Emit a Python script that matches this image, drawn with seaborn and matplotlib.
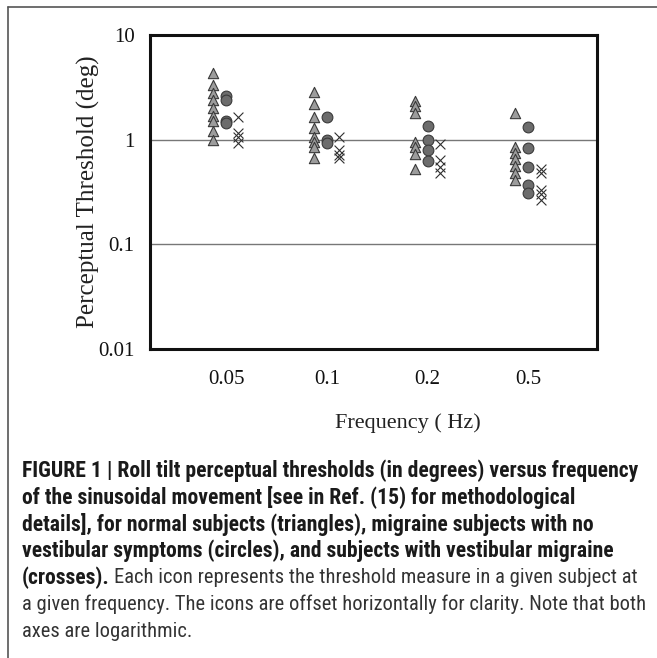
import matplotlib
matplotlib.use("Agg")
import matplotlib.pyplot as plt
from matplotlib.lines import Line2D
from matplotlib import font_manager
import seaborn as sns
import pandas as pd

# frequency categories (Hz)
freq_labels = ["0.05", "0.1", "0.2", "0.5"]

# thresholds (deg), one list per frequency
normal = [
    [4.3, 3.3, 2.8, 2.4, 2.0, 1.7, 1.5, 1.2, 1.0],
    [2.85, 2.2, 1.65, 1.3, 1.07, 0.96, 0.86, 0.67],
    [2.35, 2.1, 1.8, 0.96, 0.85, 0.73, 0.53],
    [1.8, 0.86, 0.75, 0.65, 0.56, 0.48, 0.41],
]
migraine = [
    [2.6, 2.4, 1.5, 1.45],
    [1.65, 1.0, 0.93],
    [1.35, 1.0, 0.8, 0.62],
    [1.33, 0.84, 0.55, 0.37, 0.31],
]
vestibular = [
    [1.65, 1.15, 1.05, 0.93],
    [1.07, 0.8, 0.71, 0.67],
    [0.9, 0.64, 0.55, 0.48],
    [0.53, 0.48, 0.33, 0.3, 0.265],
]

groups = {"normal": normal, "migraine": migraine, "vestibular": vestibular}
offsets = {"normal": -0.13, "migraine": 0.0, "vestibular": 0.12}

rows = []
for name, data in groups.items():
    for i, vals in enumerate(data):
        for v in vals:
            rows.append({"group": name, "x": i + offsets[name], "threshold": v})
df = pd.DataFrame(rows)

sns.set_theme(style="white")
plt.rcParams["font.family"] = ["Liberation Serif", "DejaVu Serif"]

W, H = 657, 658
fig = plt.figure(figsize=(W / 100, H / 100), dpi=100)
ax = fig.add_axes([0.2283, 0.4696, 0.6804, 0.4772])

sns.scatterplot(data=df[df.group == "normal"], x="x", y="threshold", marker="^",
                s=55, color="#9c9c9c", edgecolor="#3a3a3a", linewidth=0.8, ax=ax, zorder=3)
sns.scatterplot(data=df[df.group == "migraine"], x="x", y="threshold", marker="o",
                s=60, color="#6c6c6c", edgecolor="#3a3a3a", linewidth=0.8, ax=ax, zorder=3)
sns.scatterplot(data=df[df.group == "vestibular"], x="x", y="threshold", marker="x",
                s=50, color="#303030", linewidth=0.8, ax=ax, zorder=3)

ax.set_yscale("log")
ax.set_ylim(0.01, 10)
ax.set_xlim(-0.755, 3.68)
ax.set_yticks([0.01, 0.1, 1, 10])
ax.set_yticklabels(["0.01", "0.1", "1", "10"])
ax.set_xticks(range(len(freq_labels)))
ax.set_xticklabels(freq_labels)
ax.minorticks_off()
ax.tick_params(axis="both", length=0, labelsize=15, colors="#111111")
ax.tick_params(axis="x", pad=15)
ax.tick_params(axis="y", pad=11)
ax.yaxis.grid(True, color="#777777", linewidth=1.0)
ax.xaxis.grid(False)
for sp in ax.spines.values():
    sp.set_color("#111111")
    sp.set_linewidth(2.2)

ax.set_xlabel("Frequency ( Hz)", fontsize=16, color="#222222")
ax.xaxis.set_label_coords(0.577, -0.205)
ax.set_ylabel("Perceptual Threshold (deg)", fontsize=18, color="#222222")
ax.yaxis.set_label_coords(-0.112, 0.5)

# outer frame of the figure panel (left and top edges)
fig.add_artist(Line2D([8 / W, 8 / W], [0, 1 - 7 / H], color="#555555", lw=1.2))
fig.add_artist(Line2D([8 / W, 1], [1 - 7 / H, 1 - 7 / H], color="#555555", lw=1.2))

# caption font: pick a narrow sans if one is installed
have = {f.name for f in font_manager.fontManager.ttflist}
cap_font = "DejaVu Sans"
for cand in ["Liberation Sans Narrow", "Roboto Condensed", "DejaVu Sans Condensed",
             "Roboto", "Liberation Sans"]:
    if cand in have:
        cap_font = cand
        break

bold_lines = [
    "FIGURE 1 | Roll tilt perceptual thresholds (in degrees) versus frequency",
    "of the sinusoidal movement [see in Ref. (15) for methodological",
    "details], for normal subjects (triangles), migraine subjects with no",
    "vestibular symptoms (circles), and subjects with vestibular migraine",
]
plain_lines = [
    "Each icon represents the threshold measure in a given subject at",
    "a given frequency. The icons are offset horizontally for clarity. Note that both",
    "axes are logarithmic.",
]

# size the caption so the lines span the same width as in the figure
renderer = fig.canvas.get_renderer()
probe = fig.text(0, 0, bold_lines[0], family=cap_font, fontsize=14, fontweight="bold")
wpx = probe.get_window_extent(renderer).width
probe.remove()
cap_size = 14 * 618 / wpx
probe = fig.text(0, 0, plain_lines[1], family=cap_font, fontsize=14)
wpx2 = probe.get_window_extent(renderer).width
probe.remove()
plain_size = 14 * 626 / wpx2

x0 = 22 / W
y0 = 471
step = 26.7
for k, line in enumerate(bold_lines):
    fig.text(x0, 1 - (y0 + k * step) / H, line, family=cap_font,
             fontsize=cap_size, fontweight="bold", color="#1a1a1a", va="center", ha="left")

yk = 1 - (y0 + 4 * step) / H
t = fig.text(x0, yk, "(crosses).", family=cap_font, fontsize=cap_size,
             fontweight="bold", color="#1a1a1a", va="center", ha="left")
bb = t.get_window_extent(renderer)
fig.text((bb.x1 + 4) / W, yk, plain_lines[0], family=cap_font, fontsize=plain_size,
         color="#333333", va="center", ha="left")
fig.text(x0, 1 - (y0 + 5 * step) / H, plain_lines[1], family=cap_font,
         fontsize=plain_size, color="#333333", va="center", ha="left")
fig.text(x0, 1 - (y0 + 6 * step) / H, plain_lines[2], family=cap_font,
         fontsize=plain_size, color="#333333", va="center", ha="left")

fig.savefig("out.png", dpi=100)
